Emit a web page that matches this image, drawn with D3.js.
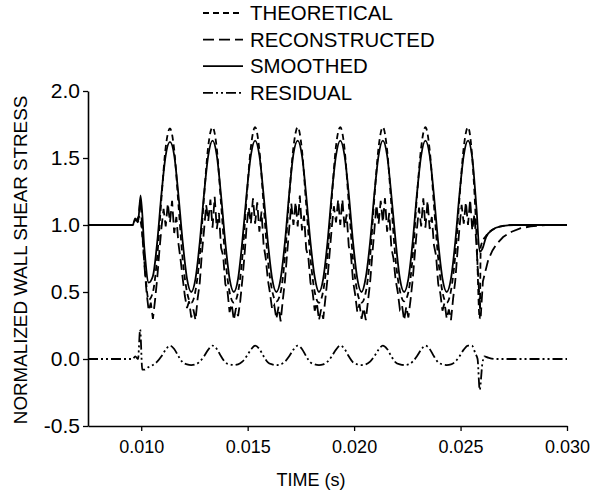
<!DOCTYPE html>
<html><head><meta charset="utf-8">
<script src="https://cdn.jsdelivr.net/npm/d3@7"></script>
<style>body{margin:0;background:#fff} svg{display:block} text{font-family:"Liberation Sans",Arial,sans-serif;fill:#000}</style>
</head><body><svg id="c" width="592" height="494"></svg>
<script>
// ---------- data ----------
const xTicks = [0.010, 0.015, 0.020, 0.025, 0.030];
const xTickLabels = ["0.010", "0.015", "0.020", "0.025", "0.030"];
const yTicks = [-0.5, 0.0, 0.5, 1.0, 1.5, 2.0];
const yTickLabels = ["-0.5", "0.0", "0.5", "1.0", "1.5", "2.0"];
const seriesNames = ["THEORETICAL", "RECONSTRUCTED", "SMOOTHED", "RESIDUAL"];

// shared sample times over the pulsatile part (0.0002 s spacing)
const tCycle = [
 0.01035,0.01055,0.01075,0.01095,0.01115,0.01135,0.01155,0.01175,0.01195,0.01215,
 0.01235,0.01255,0.01275,0.01295,0.01315,0.01335,0.01355,0.01375,0.01395,0.01415,
 0.01435,0.01455,0.01475,0.01495,0.01515,0.01535,0.01555,0.01575,0.01595,0.01615,
 0.01635,0.01655,0.01675,0.01695,0.01715,0.01735,0.01755,0.01775,0.01795,0.01815,
 0.01835,0.01855,0.01875,0.01895,0.01915,0.01935,0.01955,0.01975,0.01995,0.02015,
 0.02035,0.02055,0.02075,0.02095,0.02115,0.02135,0.02155,0.02175,0.02195,0.02215,
 0.02235,0.02255,0.02275,0.02295,0.02315,0.02335,0.02355,0.02375,0.02395,0.02415,
 0.02435,0.02455,0.02475,0.02495,0.02515,0.02535];

// THEORETICAL
const theoStartT = [0.0075, 0.0096, 0.00975, 0.0099, 0.0100, 0.01015];
const theoStartV = [1.0, 1.0, 1.03, 1.06, 1.0, 0.72];
const theoCycleV = [
 0.44,0.50,0.76,1.20,1.58,1.72,1.56,1.15,0.74,0.50,
 0.42,0.51,0.77,1.21,1.59,1.73,1.57,1.16,0.75,0.50,
 0.42,0.50,0.76,1.20,1.58,1.73,1.56,1.15,0.74,0.51,
 0.43,0.50,0.76,1.21,1.58,1.73,1.56,1.15,0.75,0.50,
 0.42,0.51,0.77,1.20,1.59,1.73,1.57,1.16,0.74,0.50,
 0.42,0.50,0.76,1.20,1.58,1.73,1.56,1.15,0.74,0.51,
 0.43,0.50,0.76,1.21,1.58,1.73,1.56,1.15,0.75,0.50,
 0.42,0.51,0.77,1.20,1.58,1.73];
const theoEndT = [0.02555, 0.02575, 0.0259, 0.02595, 0.0262, 0.0265, 0.0269, 0.0275, 0.0300];
const theoEndV = [1.50, 0.92, 0.30, 0.84, 0.92, 0.965, 0.99, 1.0, 1.0];

// SMOOTHED
const smoothStartT = [0.0075, 0.0096, 0.00972, 0.00985, 0.00997, 0.01015];
const smoothStartV = [1.0, 1.0, 1.05, 1.02, 1.22, 0.82];
const smoothCycleV = [
 0.57,0.62,0.87,1.23,1.52,1.62,1.52,1.22,0.87,0.60,
 0.50,0.60,0.87,1.23,1.52,1.63,1.52,1.22,0.87,0.60,
 0.50,0.60,0.88,1.23,1.52,1.63,1.52,1.22,0.87,0.60,
 0.50,0.60,0.87,1.23,1.53,1.63,1.52,1.22,0.87,0.61,
 0.50,0.60,0.87,1.23,1.52,1.63,1.52,1.23,0.87,0.60,
 0.50,0.61,0.87,1.23,1.52,1.63,1.52,1.22,0.88,0.60,
 0.50,0.60,0.87,1.23,1.52,1.63,1.52,1.22,0.87,0.60,
 0.50,0.60,0.87,1.23,1.52,1.63];
const smoothEndT = [0.02555, 0.02575, 0.0259, 0.02602, 0.0262, 0.0265, 0.0269, 0.0275, 0.0300];
const smoothEndV = [1.50, 1.12, 0.80, 0.82, 0.91, 0.965, 0.99, 1.0, 1.0];

// RESIDUAL
const residStartT = [0.0075, 0.0096, 0.00972, 0.00985, 0.00995, 0.01005, 0.01015];
const residStartV = [0.0, 0.0, 0.02, 0.0, 0.22, -0.08, -0.08];
const residCycleV = [
 -0.06,-0.045,-0.02,0.02,0.07,0.10,0.075,0.02,-0.025,-0.04,
 -0.045,-0.04,-0.02,0.02,0.07,0.10,0.075,0.02,-0.025,-0.04,
 -0.045,-0.04,-0.02,0.02,0.07,0.10,0.075,0.02,-0.025,-0.04,
 -0.045,-0.04,-0.02,0.02,0.07,0.10,0.075,0.02,-0.025,-0.04,
 -0.045,-0.04,-0.02,0.02,0.07,0.10,0.075,0.02,-0.025,-0.04,
 -0.045,-0.04,-0.02,0.02,0.07,0.10,0.075,0.02,-0.025,-0.04,
 -0.045,-0.04,-0.02,0.02,0.07,0.10,0.075,0.02,-0.025,-0.04,
 -0.045,-0.04,-0.02,0.02,0.07,0.10];
const residEndT = [0.02553, 0.0257, 0.0258, 0.0259, 0.02602, 0.02612, 0.0263, 0.0266, 0.0300];
const residEndV = [0.10, 0.04, 0.0, -0.23, -0.04, 0.02, 0.01, 0.0, 0.0];

// RECONSTRUCTED (0.0001 s spacing, noisy)
const recStartT = [0.0075, 0.0096, 0.00972, 0.00985, 0.00997, 0.01005, 0.01015, 0.01025];
const recStartV = [1.0, 1.0, 1.04, 1.03, 1.20, 0.95, 0.70, 0.50];
const recCycleT = [
 0.01035,0.01045,0.01055,0.01065,0.01075,0.01085,0.01095,0.01105,0.01115,0.01125,0.01135,0.01145,0.01155,0.01165,0.01175,0.01185,0.01195,0.01205,0.01215,0.01225,
 0.01235,0.01245,0.01255,0.01265,0.01275,0.01285,0.01295,0.01305,0.01315,0.01325,0.01335,0.01345,0.01355,0.01365,0.01375,0.01385,0.01395,0.01405,0.01415,0.01425,
 0.01435,0.01445,0.01455,0.01465,0.01475,0.01485,0.01495,0.01505,0.01515,0.01525,0.01535,0.01545,0.01555,0.01565,0.01575,0.01585,0.01595,0.01605,0.01615,0.01625,
 0.01635,0.01645,0.01655,0.01665,0.01675,0.01685,0.01695,0.01705,0.01715,0.01725,0.01735,0.01745,0.01755,0.01765,0.01775,0.01785,0.01795,0.01805,0.01815,0.01825,
 0.01835,0.01845,0.01855,0.01865,0.01875,0.01885,0.01895,0.01905,0.01915,0.01925,0.01935,0.01945,0.01955,0.01965,0.01975,0.01985,0.01995,0.02005,0.02015,0.02025,
 0.02035,0.02045,0.02055,0.02065,0.02075,0.02085,0.02095,0.02105,0.02115,0.02125,0.02135,0.02145,0.02155,0.02165,0.02175,0.02185,0.02195,0.02205,0.02215,0.02225,
 0.02235,0.02245,0.02255,0.02265,0.02275,0.02285,0.02295,0.02305,0.02315,0.02325,0.02335,0.02345,0.02355,0.02365,0.02375,0.02385,0.02395,0.02405,0.02415,0.02425,
 0.02435,0.02445,0.02455,0.02465,0.02475,0.02485,0.02495,0.02505,0.02515,0.02525,0.02535,0.02545,0.02555,0.02565,0.02575];
const recCycleV = [
 0.36,0.42,0.30,0.44,0.60,0.80,0.98,1.12,0.99,1.16,1.02,1.18,0.94,1.06,0.86,0.74,0.60,0.47,0.38,0.43,
 0.31,0.37,0.29,0.45,0.57,0.79,0.96,1.15,1.03,1.19,0.98,1.21,0.97,1.09,0.83,0.77,0.56,0.51,0.35,0.41,
 0.29,0.38,0.32,0.43,0.59,0.77,0.99,1.13,1.01,1.20,1.01,1.17,0.95,1.10,0.85,0.75,0.59,0.49,0.37,0.40,
 0.30,0.39,0.28,0.44,0.58,0.78,0.97,1.16,1.00,1.17,0.99,1.22,0.96,1.07,0.82,0.76,0.57,0.50,0.36,0.42,
 0.29,0.37,0.30,0.45,0.60,0.79,0.98,1.14,1.02,1.19,1.00,1.19,0.98,1.08,0.84,0.78,0.58,0.48,0.35,0.41,
 0.30,0.38,0.29,0.43,0.57,0.77,0.96,1.15,1.01,1.18,1.02,1.20,0.95,1.09,0.83,0.75,0.59,0.50,0.37,0.40,
 0.29,0.39,0.31,0.44,0.59,0.78,0.97,1.13,0.99,1.20,0.98,1.18,0.97,1.06,0.85,0.77,0.56,0.49,0.36,0.42,
 0.30,0.37,0.29,0.45,0.58,0.79,0.98,1.15,1.01,1.17,1.00,1.19,0.96,1.08,0.84];
const recEndT = [0.02585, 0.02595, 0.02605, 0.0263, 0.0265, 0.0267, 0.0270, 0.0274, 0.0278, 0.0283, 0.0290, 0.0300];
const recEndV = [0.55, 0.32, 0.58, 0.74, 0.81, 0.86, 0.91, 0.95, 0.975, 0.99, 1.0, 1.0];

// ---------- build ----------
function zipPts(ts, vs) { return ts.map((t, i) => ({t: t, v: vs[i]})); }
const theo = zipPts(theoStartT.concat(tCycle, theoEndT), theoStartV.concat(theoCycleV, theoEndV));
const smooth = zipPts(smoothStartT.concat(tCycle, smoothEndT), smoothStartV.concat(smoothCycleV, smoothEndV));
const resid = zipPts(residStartT.concat(tCycle, residEndT), residStartV.concat(residCycleV, residEndV));
const recon = zipPts(recStartT.concat(recCycleT, recEndT), recStartV.concat(recCycleV, recEndV));

const svg = d3.select("#c");
const W = 592, H = 494;
const m = {left: 88, right: 25, top: 91, bottom: 68};
const x = d3.scaleLinear().domain([0.0075, 0.030]).range([m.left, W - m.right]);
const y = d3.scaleLinear().domain([-0.5, 2.0]).range([H - m.bottom, m.top]);

const styles = {
  THEORETICAL: {dash: "6,4", curve: d3.curveMonotoneX, data: theo},
  RECONSTRUCTED: {dash: "11,5", curve: d3.curveLinear, data: recon},
  SMOOTHED: {dash: null, curve: d3.curveMonotoneX, data: smooth},
  RESIDUAL: {dash: "10,3,2,3,2,3", curve: d3.curveMonotoneX, data: resid}
};

// axes
const xAxis = d3.axisBottom(x).tickValues(xTicks).tickFormat((d, i) => xTickLabels[i]).tickSize(5).tickSizeOuter(0);
const yAxis = d3.axisLeft(y).tickValues(yTicks).tickFormat((d, i) => yTickLabels[i]).tickSize(5).tickSizeOuter(0);
const gx = svg.append("g").attr("transform", `translate(0,${H - m.bottom})`).call(xAxis);
const gy = svg.append("g").attr("transform", `translate(${m.left},0)`).call(yAxis);
[gx, gy].forEach(g => {
  g.select(".domain").attr("stroke", "#000").attr("stroke-width", 1.6);
  g.selectAll(".tick line").attr("stroke", "#000").attr("stroke-width", 1.3);
  g.selectAll(".tick text").attr("font-size", 18).attr("font-family", "Liberation Sans, Arial, sans-serif").attr("fill", "#000");
});
gx.selectAll(".tick text").attr("dy", "0.71em").attr("y", 14);
gy.selectAll(".tick text").attr("x", -8).attr("font-size", 21);

svg.append("text").attr("x", 311).attr("y", 486).attr("text-anchor", "middle").attr("font-size", 18).text("TIME (s)");
svg.append("text").attr("transform", "translate(27,260) rotate(-90)").attr("text-anchor", "middle").attr("font-size", 18.8).text("NORMALIZED WALL SHEAR STRESS");

// lines
const plot = svg.append("g");
seriesNames.slice().reverse().forEach(name => {
  const s = styles[name];
  const line = d3.line().x(d => x(d.t)).y(d => y(d.v)).curve(s.curve);
  plot.append("path").datum(s.data).attr("d", line)
    .attr("fill", "none").attr("stroke", "#000").attr("stroke-width", 1.8)
    .attr("stroke-dasharray", s.dash);
});

// legend
const lg = svg.append("g");
seriesNames.forEach((name, i) => {
  const base = 20 + i * 26.6;
  lg.append("line").attr("x1", 203).attr("x2", 243).attr("y1", base - 7).attr("y2", base - 7)
    .attr("stroke", "#000").attr("stroke-width", 1.8).attr("stroke-dasharray", styles[name].dash);
  lg.append("text").attr("x", 250).attr("y", base).attr("font-size", 20.4).text(name);
});
</script></body></html>
